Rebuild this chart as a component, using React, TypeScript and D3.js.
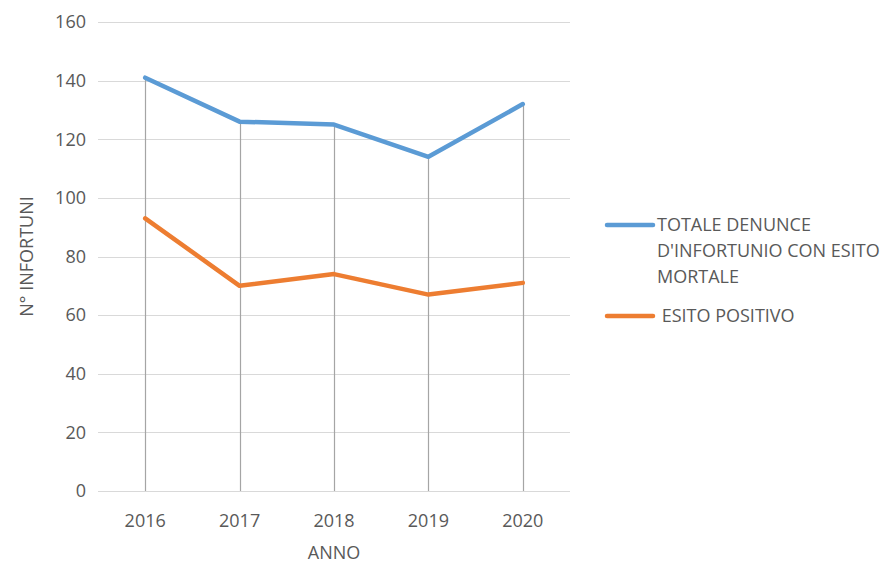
import * as d3 from "d3";

// chart data
const years = ["2016", "2017", "2018", "2019", "2020"];
const mortali = [141, 126, 125, 114, 132];
const positivi = [93, 70, 74, 67, 71];
const yTicks = [0, 20, 40, 60, 80, 100, 120, 140, 160];
const seriesNames = ["TOTALE DENUNCE D'INFORTUNIO CON ESITO MORTALE", " ESITO POSITIVO"];
const legendLines = [["TOTALE DENUNCE", "D'INFORTUNIO CON ESITO", "MORTALE"], ["\u00a0ESITO POSITIVO"]];

const W = 888;
const H = 563;
const margin = { top: 22, right: 318, bottom: 72, left: 98 };
const textColor = "#595959";
const font = "'Open Sans', 'Liberation Sans', sans-serif";
const colors = ["#5B9BD5", "#ED7D31"];
const fs = 18;

export default function App() {
  const x = d3
    .scaleBand()
    .domain(years)
    .range([margin.left, W - margin.right]);
  const y = d3
    .scaleLinear()
    .domain([0, 160])
    .range([H - margin.bottom, margin.top]);

  const cx = (d: string) => x(d)! + x.bandwidth() / 2;
  const line = d3
    .line<number>()
    .x((_, i) => cx(years[i]))
    .y((d) => y(d));

  const series = [mortali, positivi];

  return (
    <svg
      width={W}
      height={H}
      style={{ position: "absolute", left: 0, top: 0, background: "#fff" }}
      fontFamily={font}
    >
      {/* gridlines */}
      {yTicks.map((t) => (
        <g key={t}>
          <line
            x1={margin.left}
            x2={W - margin.right}
            y1={Math.round(y(t)) + 0.5}
            y2={Math.round(y(t)) + 0.5}
            stroke="#d9d9d9"
            strokeWidth={1}
          />
          <text
            x={86}
            y={y(t)}
            dy="0.35em"
            textAnchor="end"
            fontSize={fs}
            fill={textColor}
          >
            {t}
          </text>
        </g>
      ))}

      {/* drop lines */}
      {years.map((yr, i) => (
        <line
          key={yr}
          x1={Math.round(cx(yr)) + 0.5}
          x2={Math.round(cx(yr)) + 0.5}
          y1={y(Math.max(mortali[i], positivi[i]))}
          y2={y(0)}
          stroke="#a5a5a5"
          strokeWidth={1.2}
        />
      ))}

      {/* series */}
      {series.map((s, k) => (
        <path
          key={seriesNames[k]}
          d={line(s)!}
          fill="none"
          stroke={colors[k]}
          strokeWidth={4.5}
          strokeLinejoin="round"
          strokeLinecap="round"
        />
      ))}

      {/* x labels */}
      {years.map((yr) => (
        <text
          key={yr}
          x={cx(yr)}
          y={527}
          textAnchor="middle"
          fontSize={fs}
          fill={textColor}
        >
          {yr}
        </text>
      ))}

      <text x={cx("2018")} y={559} textAnchor="middle" fontSize={fs} fill={textColor}>
        ANNO
      </text>
      <text
        transform={`translate(33,${(y(0) + y(160)) / 2}) rotate(-90)`}
        textAnchor="middle"
        fontSize={fs}
        fill={textColor}
      >
        N° INFORTUNI
      </text>

      {/* legend */}
      {legendLines.map((lines, k) => {
        const top = k === 0 ? 225 : 316;
        return (
          <g key={k}>
            <line
              x1={607}
              x2={653}
              y1={top}
              y2={top}
              stroke={colors[k]}
              strokeWidth={4.5}
              strokeLinecap="round"
            />
            {lines.map((l, j) => (
              <text
                key={j}
                x={657}
                y={top + j * 26}
                dy="0.35em"
                fontSize={fs}
                fill={textColor}
              >
                {l}
              </text>
            ))}
          </g>
        );
      })}
    </svg>
  );
}
